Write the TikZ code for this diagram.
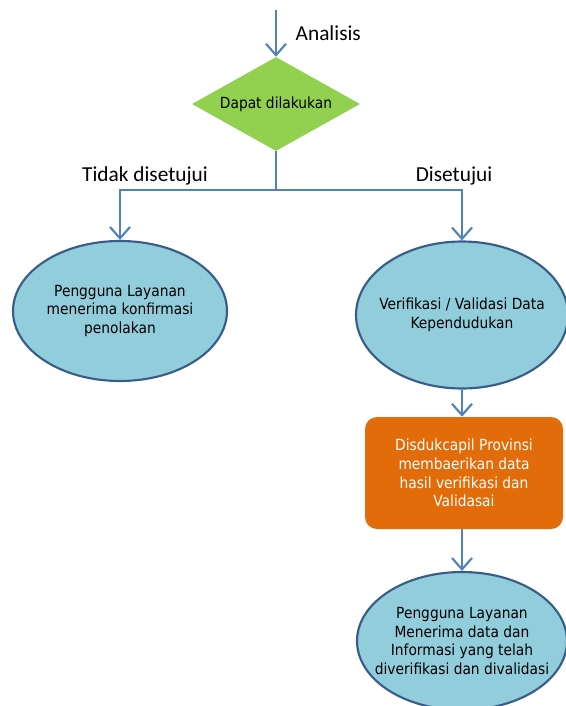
\documentclass[tikz,border=0pt]{standalone}
\usepackage{fontspec}
\setmainfont{Carlito}
\newfontfamily\boxfont{DejaVu Sans Condensed}
\usetikzlibrary{shapes.geometric}
\usetikzlibrary{arrows.meta}
\definecolor{flowblue}{HTML}{4F81BD}
\definecolor{rimblue}{HTML}{385D8A}
\definecolor{ovalfill}{HTML}{92CDDC}
\definecolor{leafgreen}{HTML}{92D050}
\definecolor{boxorange}{HTML}{E36C0A}
\def\px{0.75pt}
\def\thickness{1.6pt}
\tikzstyle{wire}=[draw=flowblue, line width=\thickness]
\tikzstyle{flow}=[wire, -{Straight Barb[length=8.5pt,width=15pt,line width=\thickness]}]
\tikzstyle{oval}=[ellipse, draw=rimblue, fill=ovalfill, line width=\thickness, inner xsep=-40pt, inner ysep=-30pt, align=center, font=\boxfont\fontsize{11.5}{14}\selectfont]
\tikzstyle{decision}=[diamond, fill=leafgreen, inner xsep=-30pt, inner ysep=-10pt, minimum width=168*\px, minimum height=94*\px, font=\boxfont\fontsize{11.5}{14}\selectfont]
\tikzstyle{task}=[rectangle, rounded corners=12*\px, fill=boxorange, text=white, minimum width=198*\px, minimum height=112*\px, align=center, font=\boxfont\fontsize{11.5}{14}\selectfont]
\tikzstyle{tag}=[font=\fontsize{16}{19}\selectfont]

\begin{document}
\begin{tikzpicture}[x=\px, y=-\px]
\useasboundingbox (0,0) rectangle (565,706);
\node [decision] (dapat) at (276,104) {Dapat dilakukan};
\node [oval, minimum width=214*\px, minimum height=140*\px] (tolak) at (120,311) {Pengguna Layanan\\menerima konfirmasi\\penolakan};
\node [oval, minimum width=212*\px, minimum height=147*\px] (verif) at (462,315) {Verifikasi / Validasi Data\\Kependudukan};
\node [task] (kirim) at (464,473) {Disdukcapil Provinsi\\membaerikan data\\hasil verifikasi dan\\Validasai};
\node [oval, minimum width=210*\px, minimum height=138*\px] (terima) at (462,641) {Pengguna Layanan\\Menerima data dan\\Informasi yang telah\\diverifikasi dan divalidasi};
\coordinate (masuk) at (276,10);
\coordinate (cabang) at (276,190);
\draw [flow] (masuk) -- (dapat.north);
\draw [wire] (dapat.south) -- (cabang);
\draw [flow] (cabang) -| (tolak.north);
\draw [flow] (cabang) -| (verif.north);
\draw [flow] (verif.south) -- (verif.south |- kirim.north);
\draw [flow] (terima.north |- kirim.south) -- (terima.north);
\node [tag, anchor=west] (analisis) at (291,33) {Analisis};
\node [tag] (tidak) at (145,176) {Tidak disetujui};
\node [tag] (setuju) at (454,176) {Disetujui};
\end{tikzpicture}
\end{document}
